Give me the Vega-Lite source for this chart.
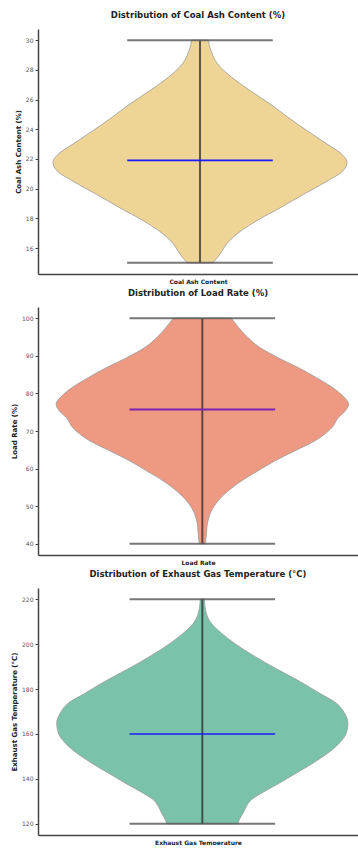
{
  "$schema": "https://vega.github.io/schema/vega-lite/v6.json",
  "padding": {"left": 10, "top": 10, "right": 0, "bottom": 0},
  "spacing": 4,
  "config": {
    "font": "DejaVu Sans",
    "view": {"stroke": null},
    "axis": {"grid": false, "domainColor": "#444", "domainWidth": 1.5, "tickColor": "#444", "tickSize": 3, "labelFontSize": 6, "labelColor": "#555", "labelOverlap": false, "titleFontSize": 7, "titleFontWeight": "bold", "titleColor": "#222"},
    "axisY": {"minExtent": 0, "titlePadding": 4},
    "title": {"fontSize": 8.5, "fontWeight": "bold", "color": "#222", "anchor": "middle", "offset": 10}
  },
  "vconcat": [
    {
      "title": "Distribution of Coal Ash Content (%)",
      "width": 320,
      "height": 245,
      "layer": [
        {
          "data": {"values": [
            {"v": 15.0, "lo": -0.081, "d": 0.081}, {"v": 15.6, "lo": -0.125, "d": 0.125}, {"v": 16.3, "lo": -0.169, "d": 0.169}, {"v": 16.95, "lo": -0.231, "d": 0.231},
            {"v": 17.85, "lo": -0.356, "d": 0.356}, {"v": 18.7, "lo": -0.5, "d": 0.5}, {"v": 19.6, "lo": -0.644, "d": 0.644}, {"v": 20.5, "lo": -0.794, "d": 0.794},
            {"v": 21.2, "lo": -0.894, "d": 0.894}, {"v": 21.8, "lo": -0.919, "d": 0.919}, {"v": 22.3, "lo": -0.888, "d": 0.888}, {"v": 23.0, "lo": -0.794, "d": 0.794},
            {"v": 23.9, "lo": -0.669, "d": 0.669}, {"v": 24.8, "lo": -0.55, "d": 0.55}, {"v": 25.7, "lo": -0.438, "d": 0.438}, {"v": 26.6, "lo": -0.313, "d": 0.313},
            {"v": 27.5, "lo": -0.198, "d": 0.198}, {"v": 28.4, "lo": -0.11, "d": 0.11}, {"v": 29.3, "lo": -0.068, "d": 0.068}, {"v": 30.0, "lo": -0.052, "d": 0.052}
          ]},
          "mark": {"type": "area", "orient": "horizontal", "interpolate": "monotone", "color": "#eed595", "stroke": "#999", "strokeWidth": 0.8},
          "encoding": {
            "y": {"field": "v", "type": "quantitative", "scale": {"domain": [14.25, 30.75], "nice": false, "zero": false}, "axis": {"title": "Coal Ash Content (%)", "values": [16, 18, 20, 22, 24, 26, 28, 30]}},
            "x": {"field": "lo", "type": "quantitative", "scale": {"domain": [-1.0125, 0.9875], "nice": false}, "axis": {"title": "Coal Ash Content", "labels": false, "ticks": false, "titleFontSize": 6, "titlePadding": 4}},
            "x2": {"field": "d"}
          }
        },
        {
          "data": {"values": [{"min": 15, "max": 30, "median": 21.9}]},
          "layer": [
            {"mark": {"type": "rule", "color": "#222", "opacity": 0.7, "strokeWidth": 2}, "encoding": {"x": {"datum": 0}, "y": {"field": "min", "type": "quantitative", "axis": {"title": "Coal Ash Content (%)", "values": [16, 18, 20, 22, 24, 26, 28, 30]}}, "y2": {"field": "max"}}},
            {"mark": {"type": "rule", "color": "#555", "opacity": 0.8, "strokeWidth": 2}, "encoding": {"x": {"datum": -0.455}, "x2": {"datum": 0.455}, "y": {"field": "min", "type": "quantitative", "axis": {"title": "Coal Ash Content (%)", "values": [16, 18, 20, 22, 24, 26, 28, 30]}}}},
            {"mark": {"type": "rule", "color": "#555", "opacity": 0.8, "strokeWidth": 2}, "encoding": {"x": {"datum": -0.455}, "x2": {"datum": 0.455}, "y": {"field": "max", "type": "quantitative", "axis": {"title": "Coal Ash Content (%)", "values": [16, 18, 20, 22, 24, 26, 28, 30]}}}},
            {"mark": {"type": "rule", "color": "#1a1aff", "strokeWidth": 1.6}, "encoding": {"x": {"datum": -0.455}, "x2": {"datum": 0.455}, "y": {"field": "median", "type": "quantitative", "axis": {"title": "Coal Ash Content (%)", "values": [16, 18, 20, 22, 24, 26, 28, 30]}}}}
          ]
        }
      ]
    },
    {
      "title": "Distribution of Load Rate (%)",
      "width": 320,
      "height": 248,
      "layer": [
        {
          "data": {"values": [
            {"v": 40, "lo": -0.019, "d": 0.019}, {"v": 42.5, "lo": -0.025, "d": 0.025}, {"v": 46.05, "lo": -0.035, "d": 0.035}, {"v": 48.7, "lo": -0.056, "d": 0.056},
            {"v": 51.4, "lo": -0.098, "d": 0.098}, {"v": 54.0, "lo": -0.16, "d": 0.16}, {"v": 56.7, "lo": -0.244, "d": 0.244}, {"v": 59.4, "lo": -0.348, "d": 0.348},
            {"v": 62.0, "lo": -0.452, "d": 0.452}, {"v": 64.7, "lo": -0.577, "d": 0.577}, {"v": 67.35, "lo": -0.702, "d": 0.702}, {"v": 68.7, "lo": -0.75, "d": 0.75},
            {"v": 70.9, "lo": -0.81, "d": 0.81}, {"v": 73.56, "lo": -0.85, "d": 0.85}, {"v": 75.33, "lo": -0.893, "d": 0.893}, {"v": 77.1, "lo": -0.914, "d": 0.914},
            {"v": 79.3, "lo": -0.879, "d": 0.879}, {"v": 81.5, "lo": -0.816, "d": 0.816}, {"v": 84.2, "lo": -0.713, "d": 0.713}, {"v": 86.9, "lo": -0.598, "d": 0.598},
            {"v": 89.5, "lo": -0.473, "d": 0.473}, {"v": 92.2, "lo": -0.36, "d": 0.36}, {"v": 94.85, "lo": -0.285, "d": 0.285}, {"v": 97.5, "lo": -0.228, "d": 0.228},
            {"v": 100, "lo": -0.181, "d": 0.181}
          ]},
          "mark": {"type": "area", "orient": "horizontal", "interpolate": "monotone", "color": "#ee9a82", "stroke": "#999", "strokeWidth": 0.8},
          "encoding": {
            "y": {"field": "v", "type": "quantitative", "scale": {"domain": [37, 103], "nice": false, "zero": false}, "axis": {"title": "Load Rate (%)", "values": [40, 50, 60, 70, 80, 90, 100]}},
            "x": {"field": "lo", "type": "quantitative", "scale": {"domain": [-1.027, 0.973], "nice": false}, "axis": {"title": "Load Rate", "labels": false, "ticks": false, "titleFontSize": 6, "titlePadding": 4}},
            "x2": {"field": "d"}
          }
        },
        {
          "data": {"values": [{"min": 40, "max": 100, "median": 75.7}]},
          "layer": [
            {"mark": {"type": "rule", "color": "#222", "opacity": 0.7, "strokeWidth": 2}, "encoding": {"x": {"datum": 0}, "y": {"field": "min", "type": "quantitative", "axis": {"title": "Load Rate (%)", "values": [40, 50, 60, 70, 80, 90, 100]}}, "y2": {"field": "max"}}},
            {"mark": {"type": "rule", "color": "#555", "opacity": 0.8, "strokeWidth": 2}, "encoding": {"x": {"datum": -0.455}, "x2": {"datum": 0.455}, "y": {"field": "min", "type": "quantitative", "axis": {"title": "Load Rate (%)", "values": [40, 50, 60, 70, 80, 90, 100]}}}},
            {"mark": {"type": "rule", "color": "#555", "opacity": 0.8, "strokeWidth": 2}, "encoding": {"x": {"datum": -0.455}, "x2": {"datum": 0.455}, "y": {"field": "max", "type": "quantitative", "axis": {"title": "Load Rate (%)", "values": [40, 50, 60, 70, 80, 90, 100]}}}},
            {"mark": {"type": "rule", "color": "#7a22b8", "strokeWidth": 2}, "encoding": {"x": {"datum": -0.455}, "x2": {"datum": 0.455}, "y": {"field": "median", "type": "quantitative", "axis": {"title": "Load Rate (%)", "values": [40, 50, 60, 70, 80, 90, 100]}}}}
          ]
        }
      ]
    },
    {
      "title": "Distribution of Exhaust Gas Temperature (°C)",
      "width": 320,
      "height": 247,
      "layer": [
        {
          "data": {"values": [
            {"v": 120, "lo": -0.223, "d": 0.223}, {"v": 121.8, "lo": -0.231, "d": 0.231}, {"v": 124.7, "lo": -0.254, "d": 0.254}, {"v": 127.7, "lo": -0.275, "d": 0.275},
            {"v": 130.7, "lo": -0.306, "d": 0.306}, {"v": 133.6, "lo": -0.369, "d": 0.369}, {"v": 138.1, "lo": -0.481, "d": 0.481}, {"v": 142.6, "lo": -0.588, "d": 0.588},
            {"v": 147.0, "lo": -0.691, "d": 0.691}, {"v": 151.5, "lo": -0.785, "d": 0.785}, {"v": 155.9, "lo": -0.856, "d": 0.856}, {"v": 160.4, "lo": -0.9, "d": 0.9},
            {"v": 164.8, "lo": -0.91, "d": 0.91}, {"v": 169.3, "lo": -0.888, "d": 0.888}, {"v": 173.7, "lo": -0.838, "d": 0.838}, {"v": 178.2, "lo": -0.731, "d": 0.731},
            {"v": 182.6, "lo": -0.629, "d": 0.629}, {"v": 187.1, "lo": -0.513, "d": 0.513}, {"v": 191.5, "lo": -0.4, "d": 0.4}, {"v": 196.0, "lo": -0.294, "d": 0.294},
            {"v": 200.4, "lo": -0.2, "d": 0.2}, {"v": 204.9, "lo": -0.119, "d": 0.119}, {"v": 209.3, "lo": -0.056, "d": 0.056}, {"v": 213.8, "lo": -0.025, "d": 0.025},
            {"v": 220, "lo": -0.0125, "d": 0.0125}
          ]},
          "mark": {"type": "area", "orient": "horizontal", "interpolate": "monotone", "color": "#7bc2aa", "stroke": "#999", "strokeWidth": 0.8},
          "encoding": {
            "y": {"field": "v", "type": "quantitative", "scale": {"domain": [115, 225], "nice": false, "zero": false}, "axis": {"title": "Exhaust Gas Temperature (°C)", "values": [120, 140, 160, 180, 200, 220]}},
            "x": {"field": "lo", "type": "quantitative", "scale": {"domain": [-1.027, 0.973], "nice": false}, "axis": {"title": "Exhaust Gas Temperature", "labels": false, "ticks": false, "titleFontSize": 6, "titlePadding": 4}},
            "x2": {"field": "d"}
          }
        },
        {
          "data": {"values": [{"min": 120, "max": 220, "median": 160}]},
          "layer": [
            {"mark": {"type": "rule", "color": "#222", "opacity": 0.7, "strokeWidth": 2}, "encoding": {"x": {"datum": 0}, "y": {"field": "min", "type": "quantitative", "axis": {"title": "Exhaust Gas Temperature (°C)", "values": [120, 140, 160, 180, 200, 220]}}, "y2": {"field": "max"}}},
            {"mark": {"type": "rule", "color": "#555", "opacity": 0.8, "strokeWidth": 2}, "encoding": {"x": {"datum": -0.455}, "x2": {"datum": 0.455}, "y": {"field": "min", "type": "quantitative", "axis": {"title": "Exhaust Gas Temperature (°C)", "values": [120, 140, 160, 180, 200, 220]}}}},
            {"mark": {"type": "rule", "color": "#555", "opacity": 0.8, "strokeWidth": 2}, "encoding": {"x": {"datum": -0.455}, "x2": {"datum": 0.455}, "y": {"field": "max", "type": "quantitative", "axis": {"title": "Exhaust Gas Temperature (°C)", "values": [120, 140, 160, 180, 200, 220]}}}},
            {"mark": {"type": "rule", "color": "#1a1aff", "strokeWidth": 1.6}, "encoding": {"x": {"datum": -0.455}, "x2": {"datum": 0.455}, "y": {"field": "median", "type": "quantitative", "axis": {"title": "Exhaust Gas Temperature (°C)", "values": [120, 140, 160, 180, 200, 220]}}}}
          ]
        }
      ]
    }
  ]
}
